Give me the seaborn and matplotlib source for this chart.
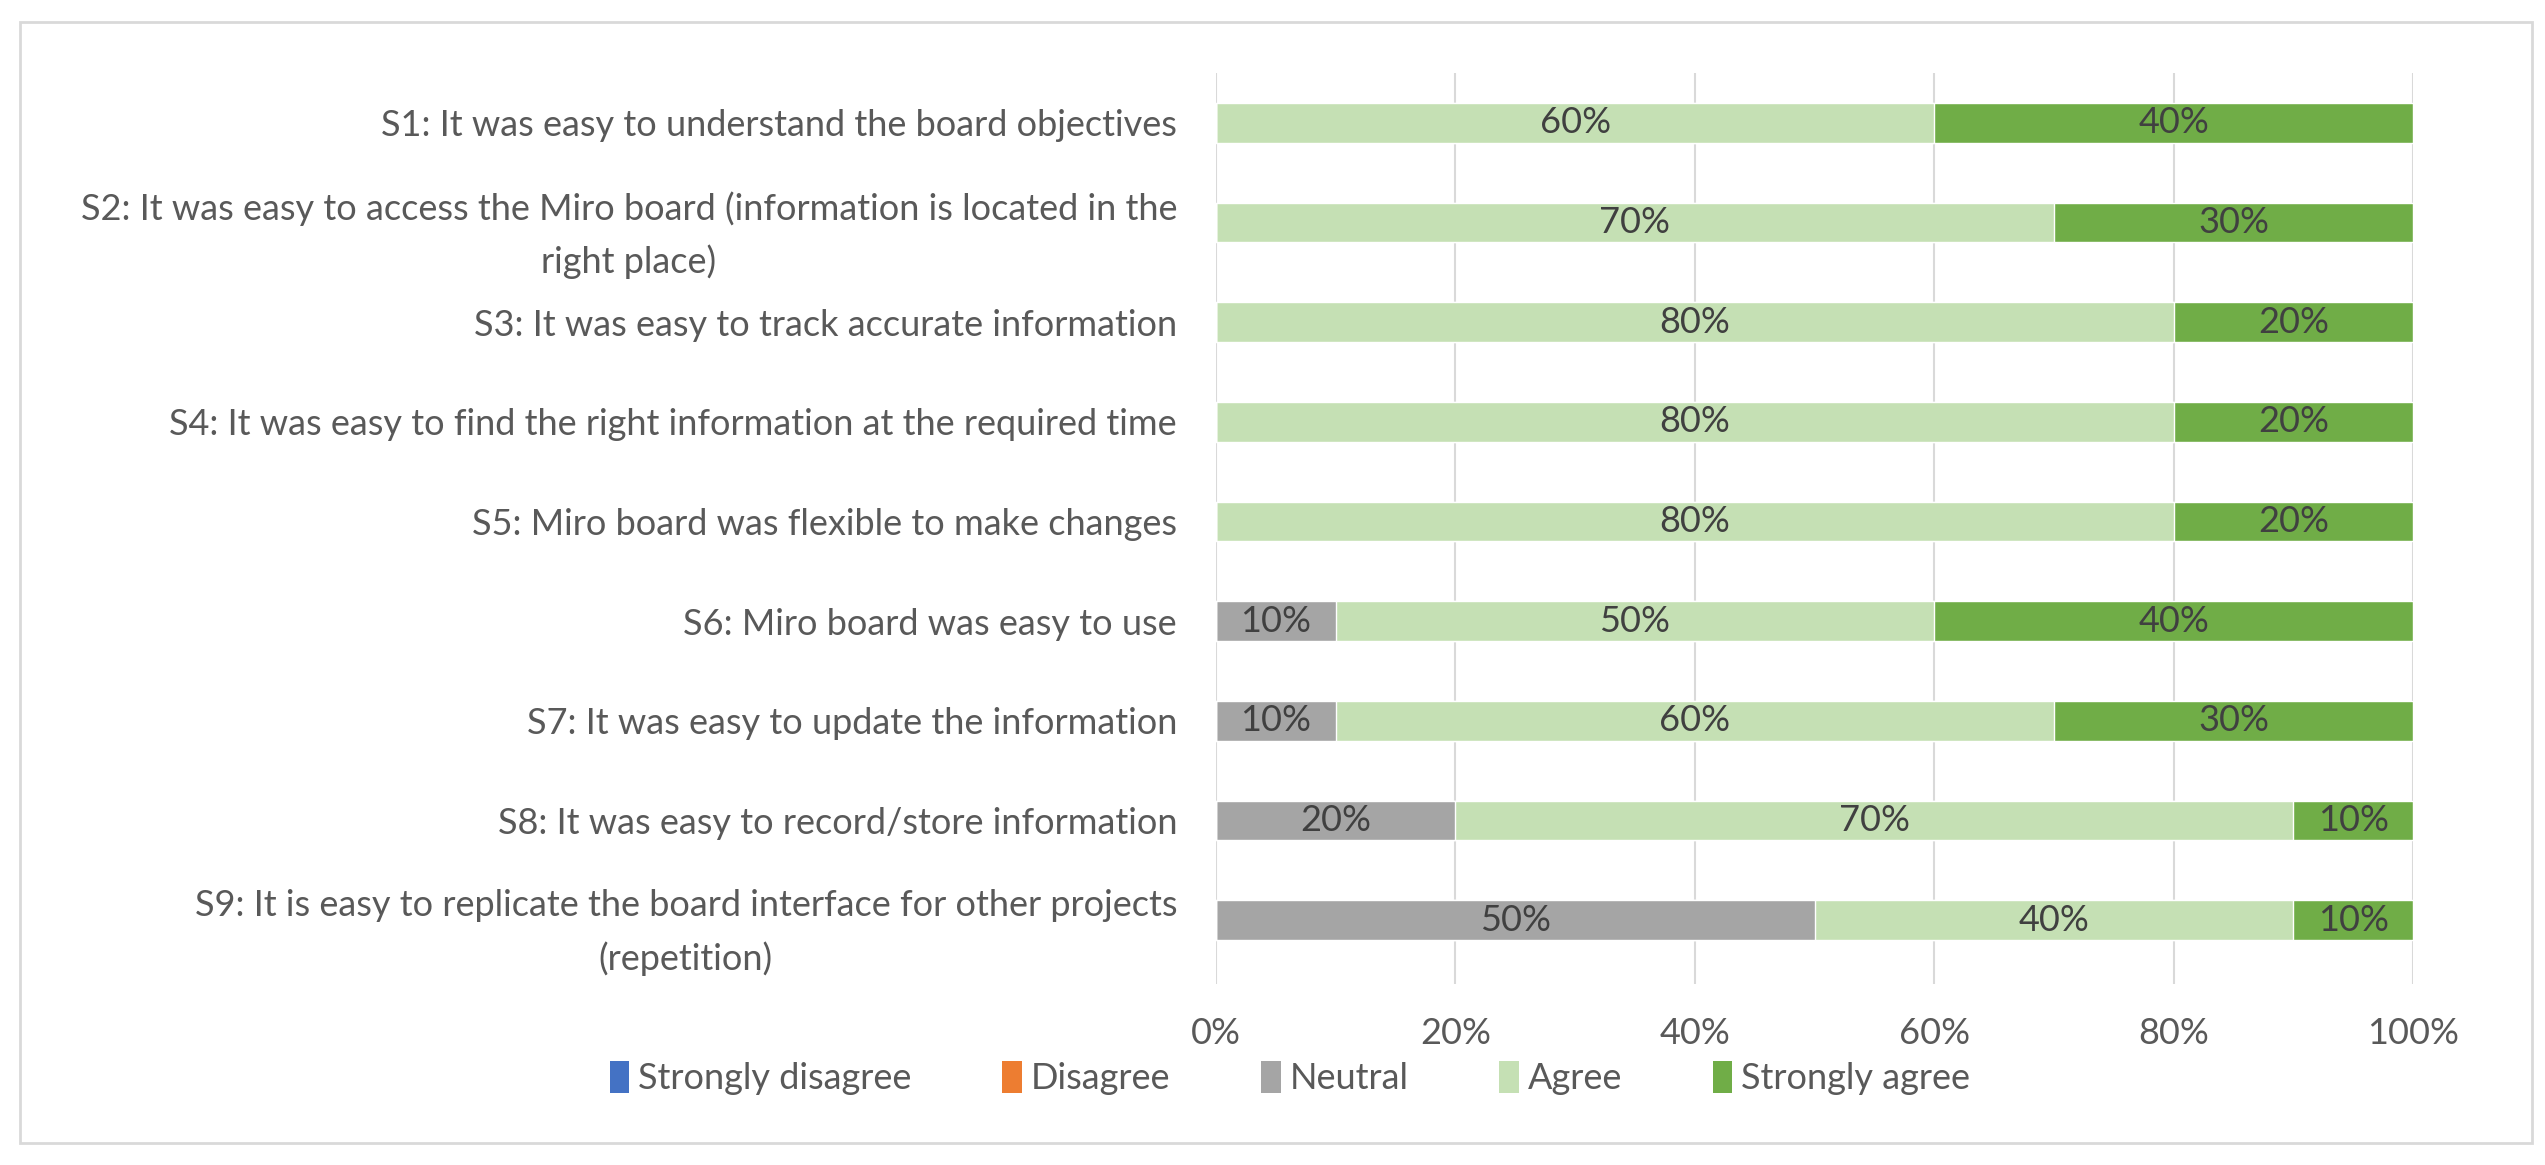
import matplotlib
matplotlib.use("Agg")
import matplotlib.pyplot as plt
from matplotlib.patches import Patch, Rectangle
import seaborn as sns
import pandas as pd
import numpy as np

statements = [
    "S1: It was easy to understand the board objectives",
    "S2: It was easy to access the Miro board (information is located in the\nright place)",
    "S3: It was easy to track accurate information",
    "S4: It was easy to find the right information at the required time",
    "S5: Miro board was flexible to make changes",
    "S6: Miro board was easy to use",
    "S7: It was easy to update the information",
    "S8: It was easy to record/store information",
    "S9: It is easy to replicate the board interface for other projects\n(repetition)",
]
levels = ["Strongly disagree", "Disagree", "Neutral", "Agree", "Strongly agree"]
strongly_disagree = [0, 0, 0, 0, 0, 0, 0, 0, 0]
disagree = [0, 0, 0, 0, 0, 0, 0, 0, 0]
neutral = [0, 0, 0, 0, 0, 10, 10, 20, 50]
agree = [60, 70, 80, 80, 80, 50, 60, 70, 40]
strongly_agree = [40, 30, 20, 20, 20, 40, 30, 10, 10]
colors = ["#4472C4", "#ED7D31", "#A5A5A5", "#C5E0B4", "#70AD47"]
xticks = [0, 20, 40, 60, 80, 100]

sns.set_theme(style="white")
FONT = ["Lato", "DejaVu Sans"]
plt.rcParams["font.family"] = FONT
TXT = "#595959"
FS = 26

series = [strongly_disagree, disagree, neutral, agree, strongly_agree]
df = pd.DataFrame({lv: vals for lv, vals in zip(levels, series)})
df["statement"] = statements
cum = df[levels].cumsum(axis=1)

fig = plt.figure(figsize=(25.45, 11.65), dpi=100)
ax = fig.add_axes([1216 / 2545, 1 - 984 / 1165, (2413 - 1216) / 2545, (984 - 73) / 1165])

# draw cumulative layers from the outermost in
for lv, col in reversed(list(zip(levels, colors))):
    sns.barplot(x=cum[lv], y=df["statement"], color=col, width=0.4,
                orient="h", ax=ax, saturation=1, zorder=3)

# data labels
for i in range(len(statements)):
    start = 0
    for lv in levels:
        v = df.loc[i, lv]
        if v > 0:
            ax.text(start + v / 2, i, f"{v}%", ha="center", va="center",
                    fontsize=FS, color="#404040", zorder=5)
        start += v

ax.set_xlim(0, 100)
ax.set_ylim(8.64, -0.5)
ax.set_xticks(xticks)
ax.set_xticklabels([f"{t}%" for t in xticks])
ax.set_yticks(range(len(statements)))
ax.set_yticklabels(statements, multialignment="center", linespacing=1.65)
ax.set_xlabel("")
ax.set_ylabel("")
ax.grid(axis="x", color="#D9D9D9", linewidth=1.5, zorder=0)
ax.grid(axis="y", visible=False)
for s in ax.spines.values():
    s.set_visible(False)
ax.tick_params(axis="x", length=0, pad=24, labelsize=FS, labelcolor=TXT)
ax.tick_params(axis="y", length=0, pad=28, labelsize=FS, labelcolor=TXT)

handles = [Patch(facecolor=c, edgecolor="none") for c in colors]
fig.legend(handles, levels, loc="center", bbox_to_anchor=(1290 / 2545, 1 - 1078 / 1165),
           ncol=5, frameon=False, fontsize=FS, labelcolor=TXT,
           handlelength=0.55, handleheight=1.0, handletextpad=0.25, columnspacing=2.5)

fig.patches.append(Rectangle((20 / 2545, 22 / 1165), (2532 - 20) / 2545, (1143 - 22) / 1165,
                             transform=fig.transFigure, fill=False,
                             edgecolor="#D9D9D9", linewidth=2))

fig.savefig("out.png", dpi=100, facecolor="white")
